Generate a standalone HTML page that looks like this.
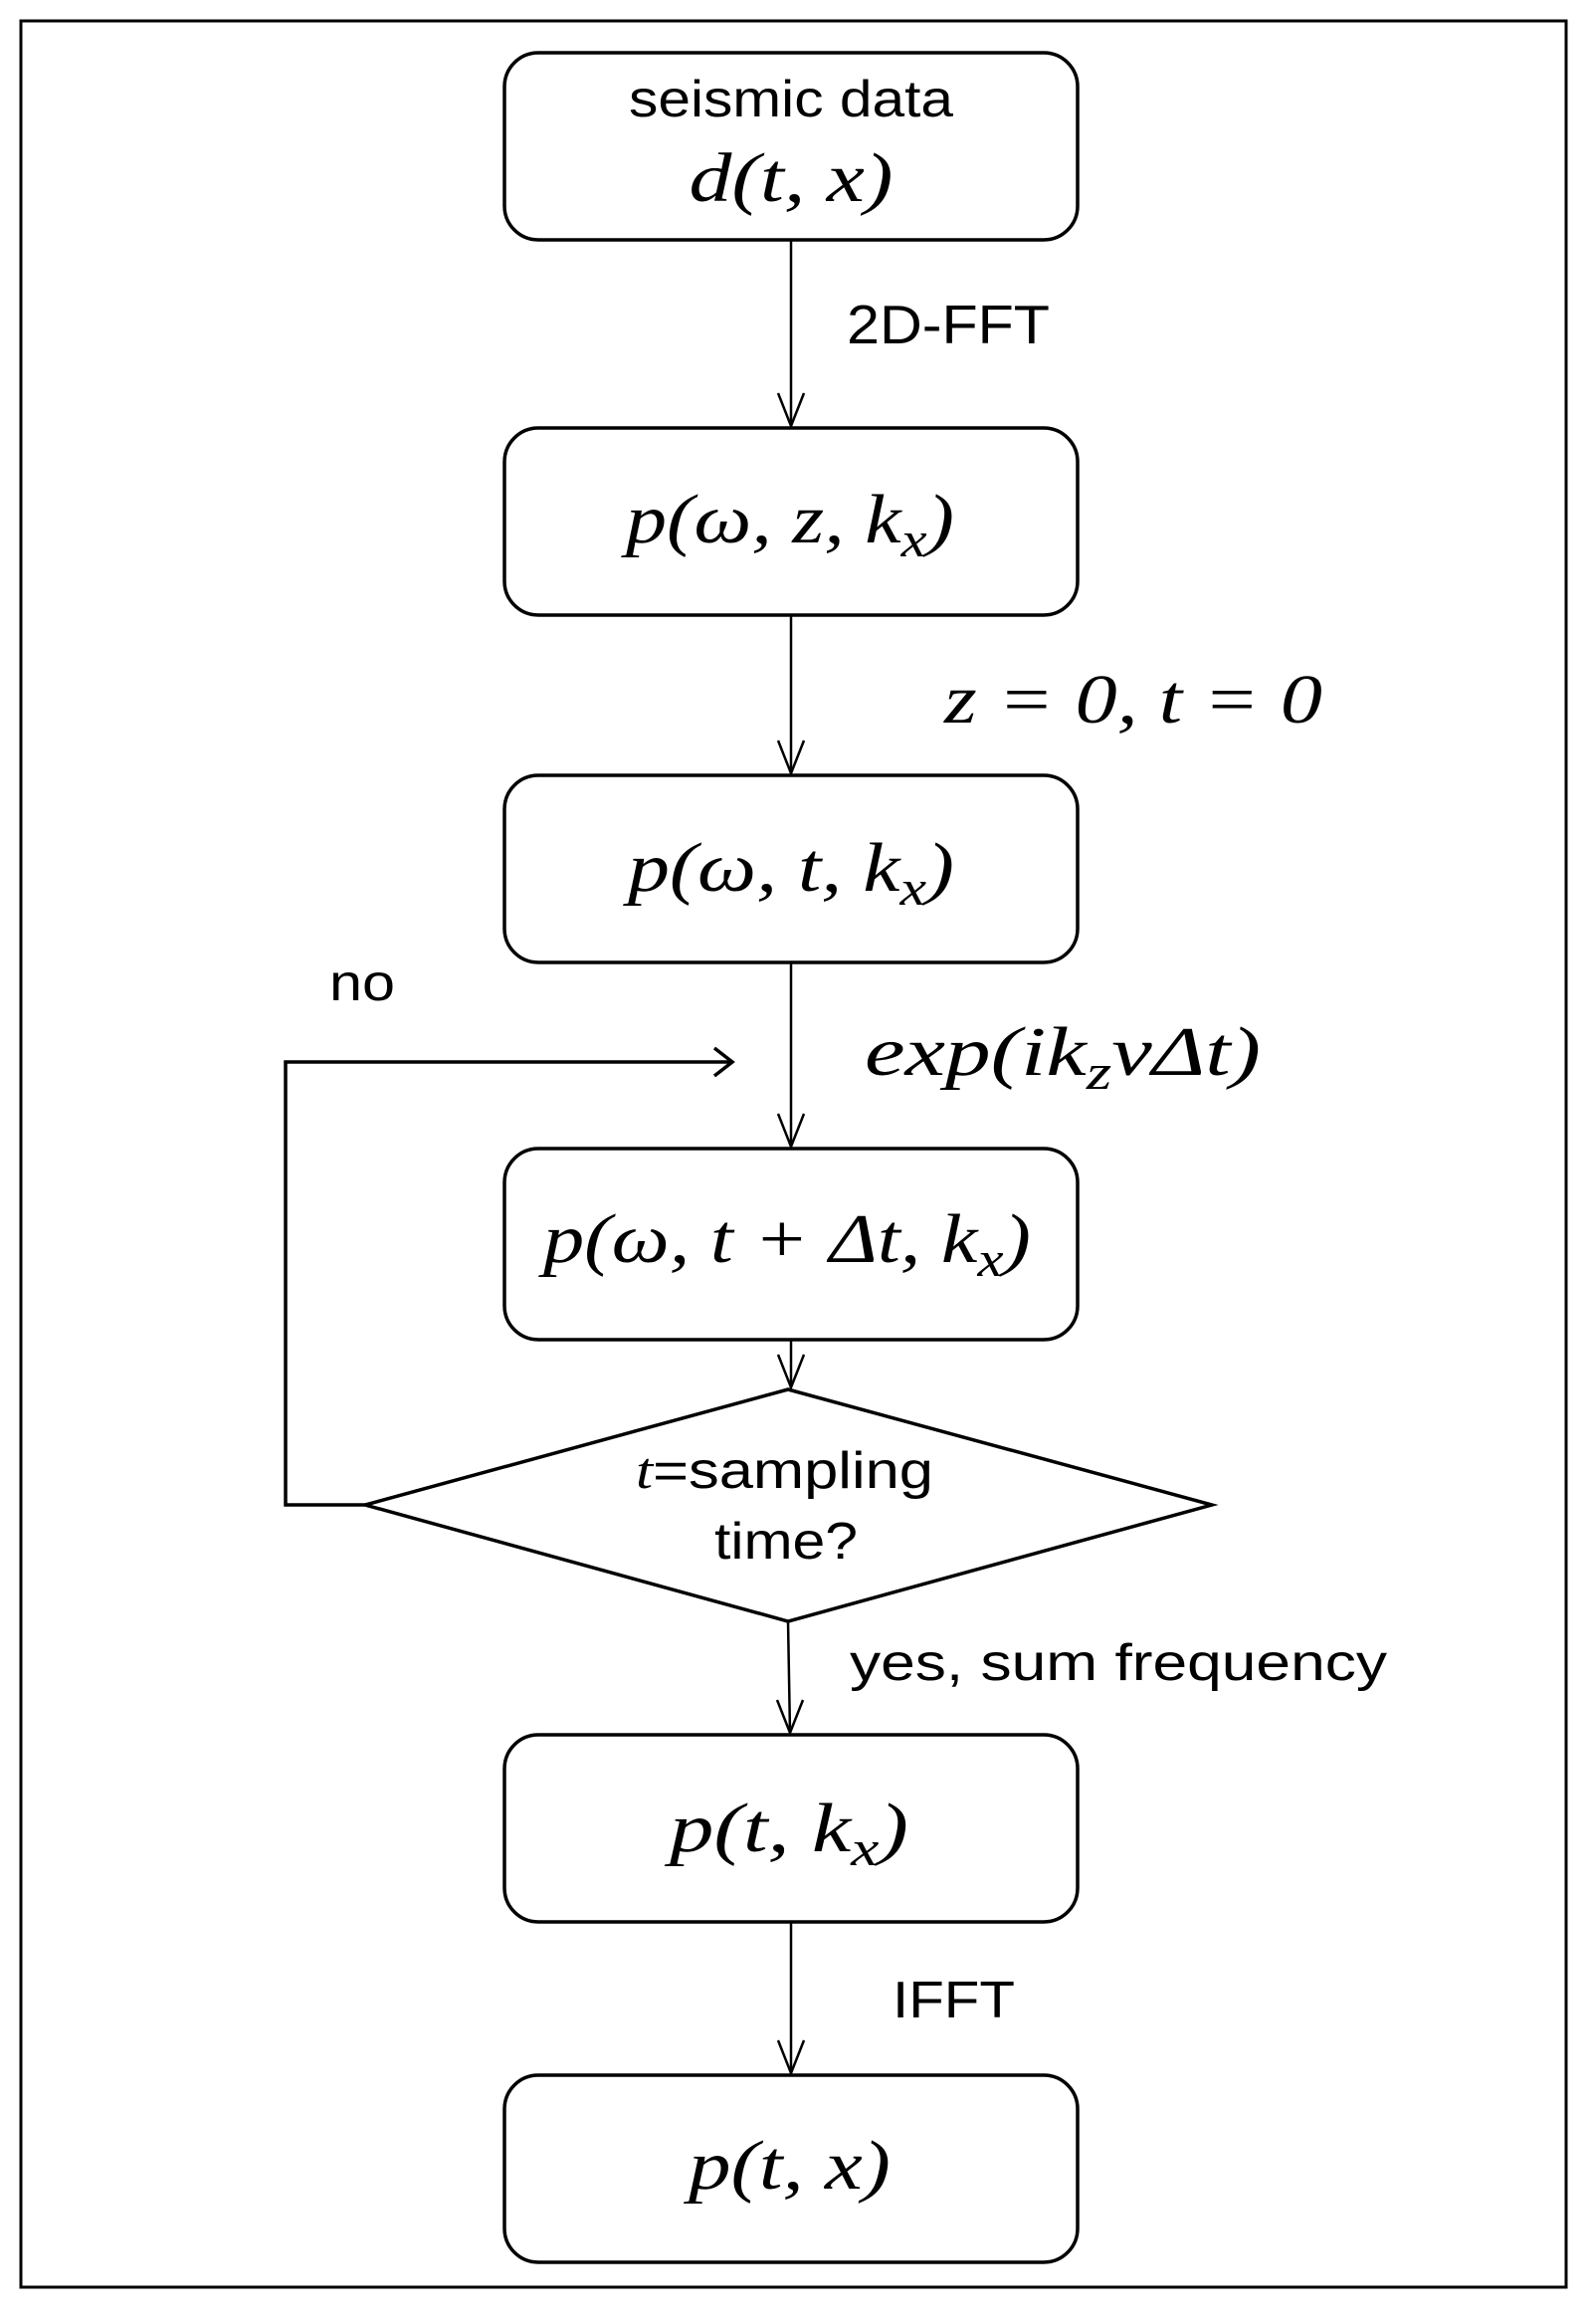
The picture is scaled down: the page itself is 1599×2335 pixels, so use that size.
<!DOCTYPE html>
<html><head><meta charset="utf-8"><style>
html,body{margin:0;padding:0;background:#fff}
svg{display:block}
.s{font-family:"Liberation Sans",Arial,sans-serif;fill:#000}
.m{font-family:"Liberation Serif","DejaVu Serif",serif;font-style:italic;fill:#000}
</style></head><body>
<svg width="1599" height="2335" viewBox="0 0 1599 2335" xmlns="http://www.w3.org/2000/svg">
<rect x="21" y="21" width="1553" height="2277" fill="none" stroke="#000" stroke-width="3"/>
<g fill="#fff" stroke="#000" stroke-width="3.5">
<rect x="507" y="53" width="576" height="188" rx="34"/>
<rect x="507" y="430" width="576" height="188" rx="34"/>
<rect x="507" y="779" width="576" height="188" rx="34"/>
<rect x="507" y="1154" width="576" height="192" rx="34"/>
<polygon points="792,1396 1218,1512 792,1629 367,1512"/>
<rect x="507" y="1743" width="576" height="188" rx="34"/>
<rect x="507" y="2085" width="576" height="188" rx="34"/>
</g>
<g stroke="#000" stroke-width="2.5" fill="none">
<line x1="795" y1="241" x2="795" y2="428"/><polyline points="782,395 795,428 808,395"/>
<line x1="795" y1="618" x2="795" y2="777"/><polyline points="782,744 795,777 808,744"/>
<line x1="795" y1="967" x2="795" y2="1152"/><polyline points="782,1119 795,1152 808,1119"/>
<line x1="795" y1="1346" x2="795" y2="1394"/><polyline points="782,1361 795,1394 808,1361"/>
<line x1="792" y1="1629" x2="794" y2="1741"/><polyline points="781,1708 794,1741 807,1708"/>
<line x1="795" y1="1931" x2="795" y2="2083"/><polyline points="782,2050 795,2083 808,2050"/>
<polyline stroke-width="3.5" points="367,1512 287,1512 287,1067 736,1067"/>
<polyline stroke-width="3.5" points="718,1053 736,1067 718,1081"/>
</g>
<text class="s" x="795" y="117" font-size="52" text-anchor="middle" textLength="326" lengthAdjust="spacingAndGlyphs">seismic data</text>
<text class="m" x="795" y="202" font-size="70" text-anchor="middle" textLength="205" lengthAdjust="spacingAndGlyphs">d(t, x)</text>
<text class="s" x="851" y="345" font-size="55" textLength="204" lengthAdjust="spacingAndGlyphs">2D-FFT</text>
<text class="m" x="629" y="545" font-size="70" textLength="330" lengthAdjust="spacingAndGlyphs">p(ω, z, k<tspan font-size="50" dy="14">x</tspan><tspan dy="-14">)</tspan></text>
<text class="m" x="949" y="726" font-size="70" textLength="380" lengthAdjust="spacingAndGlyphs">z = 0, t = 0</text>
<text class="m" x="631" y="895" font-size="70" textLength="328" lengthAdjust="spacingAndGlyphs">p(ω, t, k<tspan font-size="50" dy="14">x</tspan><tspan dy="-14">)</tspan></text>
<text class="s" x="331" y="1005" font-size="52" textLength="66" lengthAdjust="spacingAndGlyphs">no</text>
<text class="m" x="869" y="1080" font-size="70" textLength="398" lengthAdjust="spacingAndGlyphs">exp(ik<tspan font-size="50" dy="14">z</tspan><tspan dy="-14">vΔt)</tspan></text>
<text class="m" x="546" y="1268" font-size="70" textLength="490" lengthAdjust="spacingAndGlyphs">p(ω, t + Δt, k<tspan font-size="50" dy="14">x</tspan><tspan dy="-14">)</tspan></text>
<text class="s" x="639" y="1495" font-size="52" textLength="299" lengthAdjust="spacingAndGlyphs"><tspan font-family="Liberation Serif,serif" font-style="italic">t</tspan>=sampling</text>
<text class="s" x="790" y="1566" font-size="52" text-anchor="middle" textLength="144" lengthAdjust="spacingAndGlyphs">time?</text>
<text class="s" x="854" y="1688" font-size="52" textLength="540" lengthAdjust="spacingAndGlyphs">yes,  sum frequency</text>
<text class="m" x="673" y="1860" font-size="70" textLength="240" lengthAdjust="spacingAndGlyphs">p(t, k<tspan font-size="50" dy="14">x</tspan><tspan dy="-14">)</tspan></text>
<text class="s" x="897" y="2027" font-size="52" textLength="123" lengthAdjust="spacingAndGlyphs">IFFT</text>
<text class="m" x="692" y="2199" font-size="70" textLength="203" lengthAdjust="spacingAndGlyphs">p(t, x)</text>
</svg>
</body></html>
